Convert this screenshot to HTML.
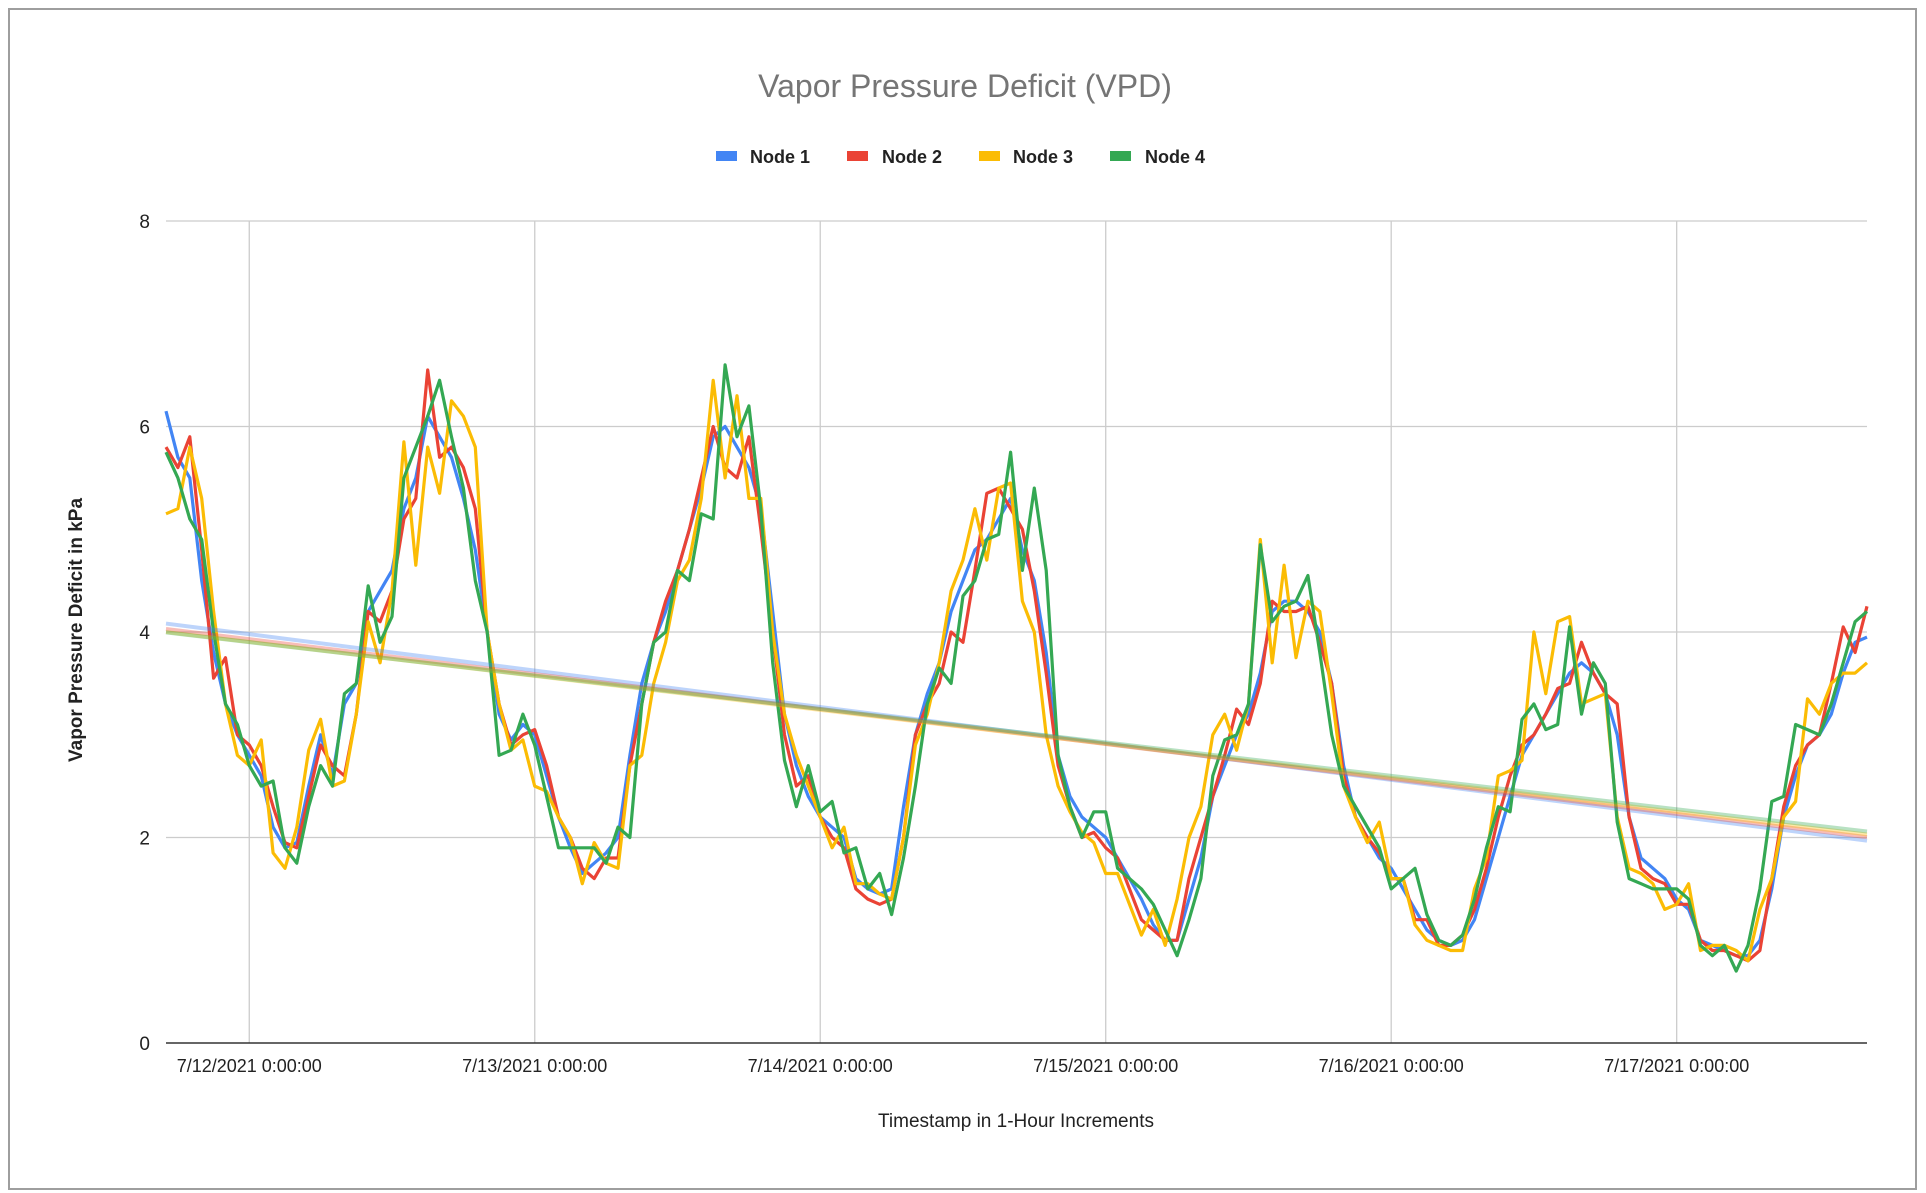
<!DOCTYPE html>
<html><head><meta charset="utf-8"><style>
html,body{margin:0;padding:0;background:#fff;}
svg{display:block;font-family:"Liberation Sans",Arial,sans-serif;}
</style></head><body>
<svg id="chart" width="1926" height="1193" viewBox="0 0 1926 1193">
<rect x="9" y="9" width="1907" height="1180" fill="#fff" stroke="#9e9e9e" stroke-width="2"/>
<text x="965" y="97" text-anchor="middle" font-size="32" fill="#757575">Vapor Pressure Deficit (VPD)</text>
<g id="legend" font-weight="bold">
<g><rect x="716" y="151" width="21" height="10" fill="#4285f4"/><text x="750" y="163" font-size="18" fill="#222">Node 1</text></g>
<g><rect x="847" y="151" width="21" height="10" fill="#ea4335"/><text x="882" y="163" font-size="18" fill="#222">Node 2</text></g>
<g><rect x="979" y="151" width="21" height="10" fill="#fbbc04"/><text x="1013" y="163" font-size="18" fill="#222">Node 3</text></g>
<g><rect x="1110" y="151" width="21" height="10" fill="#34a853"/><text x="1145" y="163" font-size="18" fill="#222">Node 4</text></g>
</g>
<g id="grid"></g>
<g id="series"></g>
<g id="trends"></g>
<g id="axes"></g>
<text x="1016" y="1127" text-anchor="middle" font-size="19" fill="#222">Timestamp in 1-Hour Increments</text>
<text transform="translate(82,630) rotate(-90)" text-anchor="middle" font-size="19" fill="#222" font-weight="bold">Vapor Pressure Deficit in kPa</text>
</svg>
<script>
const yTicks = [0, 2, 4, 6, 8];
const xTickLabels = ["7/12/2021 0:00:00","7/13/2021 0:00:00","7/14/2021 0:00:00","7/15/2021 0:00:00","7/16/2021 0:00:00","7/17/2021 0:00:00"];
const xTickHours = [7, 31, 55, 79, 103, 127];
const seriesNames = ["Node 1","Node 2","Node 3","Node 4"];
const node1 = [6.15,5.7,5.5,4.5,3.8,3.3,3.0,2.8,2.6,2.1,
1.9,1.95,2.5,3.0,2.6,3.3,3.5,4.2,4.4,4.6,
5.2,5.5,6.1,5.9,5.7,5.3,4.8,4.0,3.2,2.95,
3.1,3.0,2.6,2.2,1.9,1.65,1.75,1.85,2.0,2.8,
3.5,3.9,4.2,4.6,5.0,5.4,5.9,6.0,5.8,5.6,
5.2,4.2,3.2,2.7,2.4,2.2,2.1,2.0,1.6,1.5,
1.45,1.5,2.3,3.0,3.4,3.7,4.2,4.5,4.8,4.9,
5.1,5.3,4.8,4.5,3.8,2.8,2.4,2.2,2.1,2.0,
1.8,1.6,1.4,1.15,1.0,1.0,1.4,1.8,2.4,2.7,
3.0,3.2,3.6,4.2,4.3,4.3,4.2,4.0,3.5,2.7,
2.2,2.0,1.8,1.7,1.5,1.3,1.1,1.0,0.95,1.0,
1.2,1.6,2.0,2.4,2.8,3.0,3.2,3.4,3.6,3.7,
3.6,3.4,3.0,2.2,1.8,1.7,1.6,1.4,1.3,1.0,
0.95,0.9,0.85,0.85,1.0,1.5,2.2,2.6,2.9,3.0,
3.2,3.6,3.9,3.95];
const node2 = [5.8,5.6,5.9,4.8,3.55,3.75,3.0,2.9,2.7,2.3,
1.95,1.9,2.4,2.9,2.7,2.6,3.2,4.2,4.1,4.4,
5.1,5.3,6.55,5.7,5.8,5.6,5.2,4.0,3.3,2.9,
3.0,3.05,2.7,2.2,2.0,1.7,1.6,1.8,1.8,2.7,
3.3,3.9,4.3,4.6,5.0,5.5,6.0,5.6,5.5,5.9,
5.0,4.0,3.0,2.5,2.6,2.2,2.0,1.9,1.5,1.4,
1.35,1.4,2.0,3.0,3.3,3.5,4.0,3.9,4.6,5.35,
5.4,5.2,5.0,4.4,3.6,2.7,2.3,2.0,2.05,1.9,
1.8,1.5,1.2,1.1,1.0,1.0,1.6,2.0,2.4,2.8,
3.25,3.1,3.5,4.3,4.2,4.2,4.25,3.9,3.5,2.6,
2.2,2.0,1.85,1.6,1.6,1.2,1.2,0.95,0.95,1.05,
1.3,1.7,2.2,2.6,2.9,3.0,3.2,3.45,3.5,3.9,
3.6,3.4,3.3,2.2,1.7,1.6,1.55,1.35,1.35,1.0,
0.9,0.9,0.85,0.8,0.9,1.6,2.3,2.7,2.9,3.0,
3.5,4.05,3.8,4.25];
const node3 = [5.15,5.2,5.8,5.3,4.2,3.3,2.8,2.7,2.95,1.85,
1.7,2.1,2.85,3.15,2.5,2.55,3.2,4.1,3.7,4.4,
5.85,4.65,5.8,5.35,6.25,6.1,5.8,4.0,3.3,2.85,
2.95,2.5,2.45,2.2,2.0,1.55,1.95,1.75,1.7,2.7,
2.8,3.5,3.9,4.5,4.7,5.3,6.45,5.5,6.3,5.3,
5.3,4.0,3.2,2.8,2.5,2.2,1.9,2.1,1.55,1.55,
1.45,1.4,2.0,2.9,3.2,3.7,4.4,4.7,5.2,4.7,
5.4,5.45,4.3,4.0,3.0,2.5,2.25,2.05,1.95,1.65,
1.65,1.35,1.05,1.3,0.95,1.4,2.0,2.3,3.0,3.2,
2.85,3.3,4.9,3.7,4.65,3.75,4.3,4.2,3.4,2.5,
2.2,1.95,2.15,1.6,1.6,1.15,1.0,0.95,0.9,0.9,
1.5,1.8,2.6,2.65,2.75,4.0,3.4,4.1,4.15,3.3,
3.35,3.4,2.2,1.7,1.65,1.55,1.3,1.35,1.55,0.9,
0.95,0.95,0.9,0.8,1.3,1.6,2.2,2.35,3.35,3.2,
3.5,3.6,3.6,3.7];
const node4 = [5.75,5.5,5.1,4.9,4.0,3.3,3.1,2.7,2.5,2.55,
1.9,1.75,2.3,2.7,2.5,3.4,3.5,4.45,3.9,4.15,
5.5,5.8,6.1,6.45,5.9,5.4,4.5,4.0,2.8,2.85,
3.2,2.9,2.4,1.9,1.9,1.9,1.9,1.75,2.1,2.0,
3.3,3.9,4.0,4.6,4.5,5.15,5.1,6.6,5.9,6.2,
5.2,3.7,2.75,2.3,2.7,2.25,2.35,1.85,1.9,1.5,
1.65,1.25,1.8,2.5,3.3,3.65,3.5,4.35,4.5,4.9,
4.95,5.75,4.6,5.4,4.6,2.8,2.3,2.0,2.25,2.25,
1.7,1.6,1.5,1.35,1.1,0.85,1.2,1.6,2.6,2.95,
3.0,3.3,4.85,4.1,4.25,4.3,4.55,3.8,3.0,2.5,
2.3,2.1,1.9,1.5,1.6,1.7,1.25,1.0,0.95,1.05,
1.4,1.9,2.3,2.25,3.15,3.3,3.05,3.1,4.05,3.2,
3.7,3.5,2.15,1.6,1.55,1.5,1.5,1.5,1.4,0.95,
0.85,0.95,0.7,0.95,1.5,2.35,2.4,3.1,3.05,3.0,
3.3,3.7,4.1,4.2];

const NS='http://www.w3.org/2000/svg';
const L=166,R=1867,T=221,B=1043,YMAX=8;
const N=node1.length;
function xs(i){return L+(R-L)*i/(N-1);}
function ys(v){return B-(B-T)*v/YMAX;}
function mk(tag,attrs,parent){const e=document.createElementNS(NS,tag);for(const k in attrs)e.setAttribute(k,attrs[k]);parent.appendChild(e);return e;}
const grid=document.getElementById('grid'),axes=document.getElementById('axes'),ser=document.getElementById('series'),tr=document.getElementById('trends');
yTicks.forEach(v=>{
  if(v>0){const g=mk('line',{x1:L,x2:R,y1:ys(v),y2:ys(v),stroke:'#cccccc','stroke-width':1.3},grid);
  
  }
  const t=mk('text',{x:L-16,y:ys(v)+7,'text-anchor':'end','font-size':19,fill:'#222'},axes);
  t.textContent=v;
  
  
});
xTickHours.forEach((h,k)=>{
  const g=mk('line',{x1:xs(h),x2:xs(h),y1:T,y2:B,stroke:'#cccccc','stroke-width':1.3},grid);
  
  
  const t=mk('text',{x:xs(h),y:B+29,'text-anchor':'middle','font-size':18,fill:'#222'},axes);
  t.textContent=xTickLabels[k];
  
  
});
const base=mk('line',{x1:L,x2:R,y1:B,y2:B,stroke:'#333','stroke-width':1.5},axes);


const colors=['#4285f4','#ea4335','#fbbc04','#34a853'];
const all=[node1,node2,node3,node4];
all.forEach((d,s)=>{
  const p=mk('polyline',{points:d.map((v,i)=>xs(i).toFixed(1)+','+ys(v).toFixed(1)).join(' '),fill:'none',stroke:colors[s],'stroke-width':3.2,'stroke-linejoin':'round'},ser);
  
  
});
all.forEach((d,s)=>{
  let sx=0,sy=0,sxx=0,sxy=0;
  d.forEach((v,i)=>{sx+=i;sy+=v;sxx+=i*i;sxy+=i*v;});
  const m=(N*sxy-sx*sy)/(N*sxx-sx*sx),b=(sy-m*sx)/N;
  const l=mk('line',{x1:xs(0),y1:ys(b),x2:xs(N-1),y2:ys(b+m*(N-1)),stroke:colors[s],'stroke-width':4,'stroke-opacity':0.35},tr);
  
  
});
</script>
</body></html>
